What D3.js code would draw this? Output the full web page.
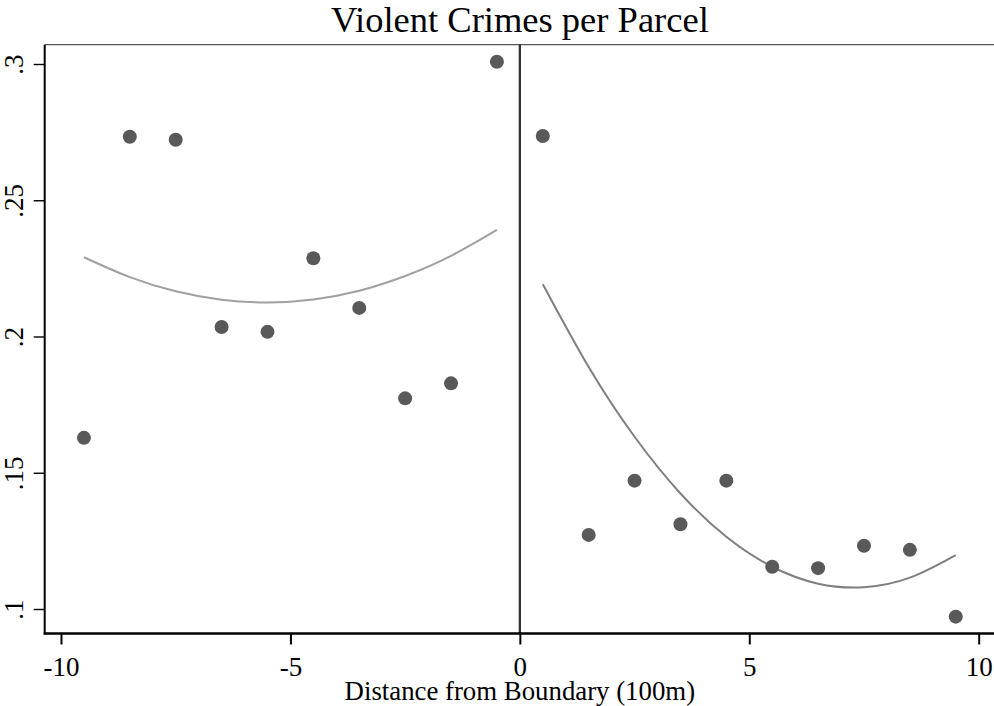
<!DOCTYPE html>
<html>
<head>
<meta charset="utf-8">
<script src="https://cdn.jsdelivr.net/npm/d3@7"></script>
<style>
  html, body { margin: 0; padding: 0; background: #fff; }
  svg { display: block; }
  text { font-family: "Liberation Serif", "Times New Roman", serif; fill: #000; }
</style>
</head>
<body>
<svg id="chart" width="994" height="706"></svg>
<script>
// ---- data ----
const leftX = [-9.5, -8.5, -7.5, -6.5, -5.5, -4.5, -3.5, -2.5, -1.5, -0.5];
const rightX = [0.5, 1.5, 2.5, 3.5, 4.5, 5.5, 6.5, 7.5, 8.5, 9.5];
const leftY = [0.1628, 0.2733, 0.2722, 0.2035, 0.2017, 0.2287, 0.2105, 0.1773, 0.1828, 0.3008];
const rightY = [0.2736, 0.1272, 0.1471, 0.1311, 0.1471, 0.1155, 0.1150, 0.1232, 0.1217, 0.0972];
const leftFit = [0.2291, 0.2218, 0.2166, 0.2135, 0.2125, 0.2136, 0.2168, 0.2222, 0.2296, 0.2391];
const rightFit = [0.2192, 0.1888, 0.1632, 0.1424, 0.1265, 0.1155, 0.1093, 0.1080, 0.1115, 0.1198];
const xTicks = [-10, -5, 0, 5, 10];
const xTickLabels = ["-10", "-5", "0", "5", "10"];
const yTicks = [0.1, 0.15, 0.2, 0.25, 0.3];
const yTickLabels = [".1", ".15", ".2", ".25", ".3"];
const title = "Violent Crimes per Parcel";
const xTitle = "Distance from Boundary (100m)";

// ---- layout ----
const svg = d3.select("#chart");
const plotLeft = 44.7, plotRight = 994, plotTop = 44.7, plotBottom = 633.5;
const x = d3.scaleLinear().domain([-10, 10]).range([61, 978.7]);
const y = d3.scaleLinear().domain([0.1, 0.3]).range([609, 64]);

// top border
svg.append("line")
  .attr("x1", plotLeft).attr("x2", plotRight)
  .attr("y1", plotTop).attr("y2", plotTop)
  .attr("stroke", "#555").attr("stroke-width", 1.2);

// vertical line at 0
svg.append("line")
  .attr("x1", x(0)).attr("x2", x(0))
  .attr("y1", plotTop).attr("y2", plotBottom)
  .attr("stroke", "#333").attr("stroke-width", 2.3);

// fit curves
const line = d3.line().x(d => x(d[0])).y(d => y(d[1])).curve(d3.curveNatural);
svg.append("path")
  .datum(leftX.map((v, i) => [v, leftFit[i]]))
  .attr("d", line).attr("fill", "none")
  .attr("stroke", "#a0a0a0").attr("stroke-width", 2);
svg.append("path")
  .datum(rightX.map((v, i) => [v, rightFit[i]]))
  .attr("d", line).attr("fill", "none")
  .attr("stroke", "#7f7f7f").attr("stroke-width", 2);

// points
const pts = leftX.map((v, i) => [v, leftY[i]]).concat(rightX.map((v, i) => [v, rightY[i]]));
svg.append("g").selectAll("circle").data(pts).join("circle")
  .attr("cx", d => x(d[0])).attr("cy", d => y(d[1])).attr("r", 7)
  .attr("fill", "#595959");

// y axis
const yAxis = d3.axisLeft(y).tickValues(yTicks)
  .tickFormat((d, i) => yTickLabels[i]).tickSize(11).tickPadding(0);
const gy = svg.append("g").attr("transform", `translate(${plotLeft},0)`).call(yAxis);
gy.select(".domain").remove();
gy.selectAll(".tick line").attr("stroke", "#000").attr("stroke-width", 1.4);
gy.selectAll(".tick text")
  .attr("x", null).attr("dy", null)
  .attr("transform", `translate(${22.5 - plotLeft},0) rotate(-90)`)
  .attr("text-anchor", "middle")
  .style("font-family", '"Liberation Serif", serif')
  .style("font-size", "27px").attr("fill", "#000");
svg.append("line")
  .attr("x1", plotLeft).attr("x2", plotLeft)
  .attr("y1", plotTop).attr("y2", plotBottom + 1)
  .attr("stroke", "#000").attr("stroke-width", 2);

// x axis
const xAxis = d3.axisBottom(x).tickValues(xTicks)
  .tickFormat((d, i) => xTickLabels[i]).tickSize(11).tickPadding(0);
const gx = svg.append("g").attr("transform", `translate(0,${plotBottom})`).call(xAxis);
gx.select(".domain").remove();
gx.selectAll(".tick line").attr("stroke", "#000").attr("stroke-width", 2);
gx.selectAll(".tick text")
  .attr("y", 676 - plotBottom).attr("dy", null)
  .attr("text-anchor", "middle")
  .style("font-family", '"Liberation Serif", serif')
  .style("font-size", "27px").attr("fill", "#000");
svg.append("line")
  .attr("x1", plotLeft - 1).attr("x2", plotRight)
  .attr("y1", plotBottom).attr("y2", plotBottom)
  .attr("stroke", "#000").attr("stroke-width", 2.3);

// titles
svg.append("text")
  .attr("x", x(0)).attr("y", 31.5)
  .attr("text-anchor", "middle")
  .style("font-size", "36.5px")
  .text(title);
svg.append("text")
  .attr("x", x(0)).attr("y", 700)
  .attr("text-anchor", "middle")
  .style("font-size", "26.8px")
  .text(xTitle);
</script>
</body>
</html>
